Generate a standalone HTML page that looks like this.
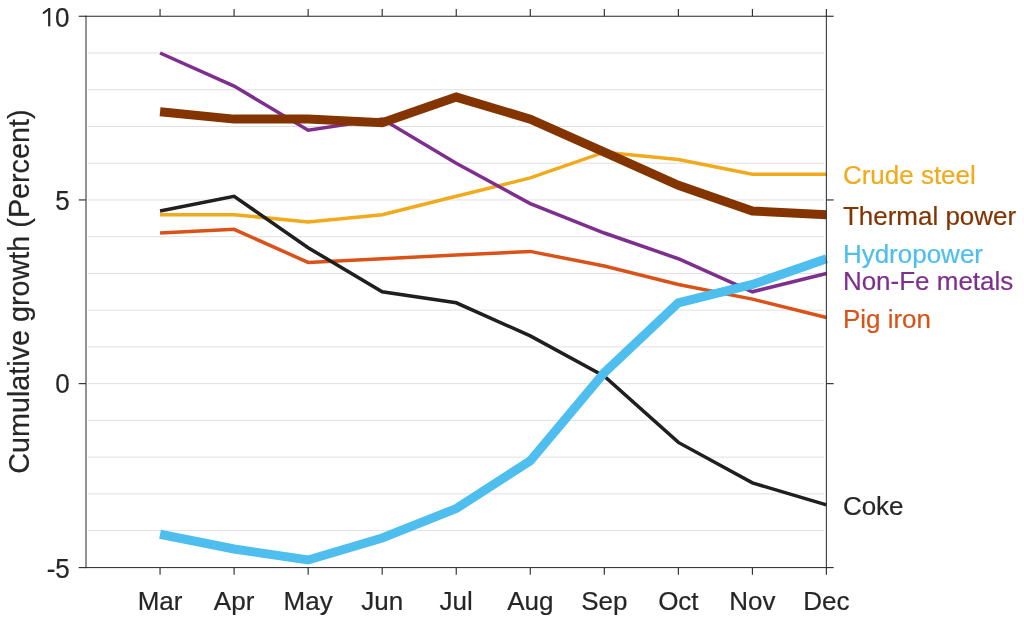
<!DOCTYPE html>
<html><head><meta charset="utf-8"><style>
html,body{margin:0;padding:0;background:#fff;}
svg{display:block;}
#w{width:1024px;height:623px;overflow:hidden;will-change:transform;}
text{font-family:"Liberation Sans",sans-serif;stroke:currentColor;stroke-width:0.2px;}
</style></head><body><div id="w">
<svg width="1024" height="623" viewBox="0 0 1024 623">
<rect width="1024" height="623" fill="#fff"/><g>
<g stroke="#e0e0e0" stroke-width="1"><line x1="88" y1="530.61" x2="824" y2="530.61"/><line x1="88" y1="493.87" x2="824" y2="493.87"/><line x1="88" y1="457.13" x2="824" y2="457.13"/><line x1="88" y1="420.39" x2="824" y2="420.39"/><line x1="88" y1="383.65" x2="824" y2="383.65"/><line x1="88" y1="346.91" x2="824" y2="346.91"/><line x1="88" y1="310.17" x2="824" y2="310.17"/><line x1="88" y1="273.43" x2="824" y2="273.43"/><line x1="88" y1="236.69" x2="824" y2="236.69"/><line x1="88" y1="199.95" x2="824" y2="199.95"/><line x1="88" y1="163.21" x2="824" y2="163.21"/><line x1="88" y1="126.47" x2="824" y2="126.47"/><line x1="88" y1="89.73" x2="824" y2="89.73"/><line x1="88" y1="52.99" x2="824" y2="52.99"/></g>
<polyline points="160.05,233.02 234.09,229.34 308.14,262.41 382.18,258.73 456.23,255.06 530.27,251.39 604.32,266.08 678.36,284.45 752.40,299.15 826.45,317.52" fill="none" stroke="#D95319" stroke-width="3.5" stroke-linejoin="miter" stroke-linecap="butt"/>
<polyline points="160.05,214.65 234.09,214.65 308.14,221.99 382.18,214.65 456.23,196.28 530.27,177.91 604.32,152.19 678.36,159.54 752.40,174.23 826.45,174.23" fill="none" stroke="#F0AA1C" stroke-width="3.5" stroke-linejoin="miter" stroke-linecap="butt"/>
<polyline points="160.05,52.99 234.09,86.06 308.14,130.14 382.18,119.12 456.23,163.21 530.27,203.62 604.32,233.02 678.36,258.73 752.40,291.80 826.45,273.43" fill="none" stroke="#7E2F8E" stroke-width="3.5" stroke-linejoin="miter" stroke-linecap="butt"/>
<polyline points="160.05,210.97 234.09,196.28 308.14,247.71 382.18,291.80 456.23,302.82 530.27,335.89 604.32,376.30 678.36,442.43 752.40,482.85 826.45,504.89" fill="none" stroke="#1f1f1f" stroke-width="3.5" stroke-linejoin="miter" stroke-linecap="butt"/>
<polyline points="160.05,111.77 234.09,119.12 308.14,119.12 382.18,122.80 456.23,97.08 530.27,119.12 604.32,152.19 678.36,185.25 752.40,210.97 826.45,214.65" fill="none" stroke="#843400" stroke-width="9" stroke-linejoin="miter" stroke-linecap="butt"/>
<polyline points="160.05,534.28 234.09,548.98 308.14,560.00 382.18,537.96 456.23,508.57 530.27,460.80 604.32,372.63 678.36,302.82 752.40,284.45 826.45,258.73" fill="none" stroke="#4DBEEE" stroke-width="9" stroke-linejoin="miter" stroke-linecap="butt"/>
<g stroke="#262626" stroke-width="1.1" fill="none"><line x1="86.0" y1="15.75" x2="86.0" y2="568.1" stroke-width="1"/><line x1="826.35" y1="15.75" x2="826.35" y2="568.1" stroke-width="1"/><line x1="85.5" y1="16.25" x2="826.85" y2="16.25"/><line x1="85.5" y1="567.6" x2="826.85" y2="567.6" stroke-width="1"/><line x1="160.05" y1="567.60" x2="160.05" y2="574.80"/><line x1="160.05" y1="16.25" x2="160.05" y2="8.95"/><line x1="234.09" y1="567.60" x2="234.09" y2="574.80"/><line x1="234.09" y1="16.25" x2="234.09" y2="8.95"/><line x1="308.14" y1="567.60" x2="308.14" y2="574.80"/><line x1="308.14" y1="16.25" x2="308.14" y2="8.95"/><line x1="382.18" y1="567.60" x2="382.18" y2="574.80"/><line x1="382.18" y1="16.25" x2="382.18" y2="8.95"/><line x1="456.23" y1="567.60" x2="456.23" y2="574.80"/><line x1="456.23" y1="16.25" x2="456.23" y2="8.95"/><line x1="530.27" y1="567.60" x2="530.27" y2="574.80"/><line x1="530.27" y1="16.25" x2="530.27" y2="8.95"/><line x1="604.32" y1="567.60" x2="604.32" y2="574.80"/><line x1="604.32" y1="16.25" x2="604.32" y2="8.95"/><line x1="678.36" y1="567.60" x2="678.36" y2="574.80"/><line x1="678.36" y1="16.25" x2="678.36" y2="8.95"/><line x1="752.40" y1="567.60" x2="752.40" y2="574.80"/><line x1="752.40" y1="16.25" x2="752.40" y2="8.95"/><line x1="826.35" y1="567.60" x2="826.35" y2="574.80"/><line x1="826.35" y1="16.25" x2="826.35" y2="8.95"/><line x1="86.00" y1="16.25" x2="78.70" y2="16.25"/><line x1="826.35" y1="16.25" x2="833.65" y2="16.25"/><line x1="86.00" y1="199.95" x2="78.70" y2="199.95"/><line x1="826.35" y1="199.95" x2="833.65" y2="199.95"/><line x1="86.00" y1="383.65" x2="78.70" y2="383.65"/><line x1="826.35" y1="383.65" x2="833.65" y2="383.65"/><line x1="86.00" y1="567.60" x2="78.70" y2="567.60"/><line x1="826.35" y1="567.60" x2="833.65" y2="567.60"/></g>
<g fill="#262626" color="#262626" font-size="26"><text transform="translate(69.4,26.50) scale(1,1.04)" text-anchor="end">0</text><text transform="translate(69.8,210.20) scale(1,1.04)" text-anchor="end">5</text><text transform="translate(69.8,393.35) scale(1,1.04)" text-anchor="end">0</text><text transform="translate(69.8,578.20) scale(1,1.04)" text-anchor="end">-5</text><rect x="48.1" y="8.1" width="2.2" height="18.2"/><path d="M43.7 12.9 L48.9 9.0" stroke="#262626" stroke-width="2.1" stroke-linecap="round"/><text x="160.05" y="609.5" text-anchor="middle">Mar</text><text x="234.09" y="609.5" text-anchor="middle">Apr</text><text x="308.14" y="609.5" text-anchor="middle">May</text><text x="382.18" y="609.5" text-anchor="middle">Jun</text><text x="456.23" y="609.5" text-anchor="middle">Jul</text><text x="530.27" y="609.5" text-anchor="middle">Aug</text><text x="604.32" y="609.5" text-anchor="middle">Sep</text><text x="678.36" y="609.5" text-anchor="middle">Oct</text><text x="752.40" y="609.5" text-anchor="middle">Nov</text><text x="826.45" y="609.5" text-anchor="middle">Dec</text></g>
<text transform="translate(28.6,291.6) rotate(-90) scale(1,1.035)" text-anchor="middle" font-size="28.75" fill="#262626" color="#262626">Cumulative growth (Percent)</text>
<g font-size="26"><text transform="translate(842.9,184.1) scale(1,1.025)" fill="#F0AA1C" color="#F0AA1C">Crude steel</text><text transform="translate(842.9,224.8) scale(1,1.025)" fill="#843400" color="#843400">Thermal power</text><text transform="translate(842.9,262.7) scale(1,1.025)" fill="#4DBEEE" color="#4DBEEE">Hydropower</text><text transform="translate(842.9,290.3) scale(1,1.025)" fill="#7E2F8E" color="#7E2F8E">Non-Fe metals</text><text transform="translate(842.9,327.8) scale(1,1.025)" fill="#D95319" color="#D95319">Pig iron</text><text transform="translate(842.9,515.2) scale(1,1.025)" fill="#262626" color="#262626">Coke</text></g>
</g></svg></div></body></html>
